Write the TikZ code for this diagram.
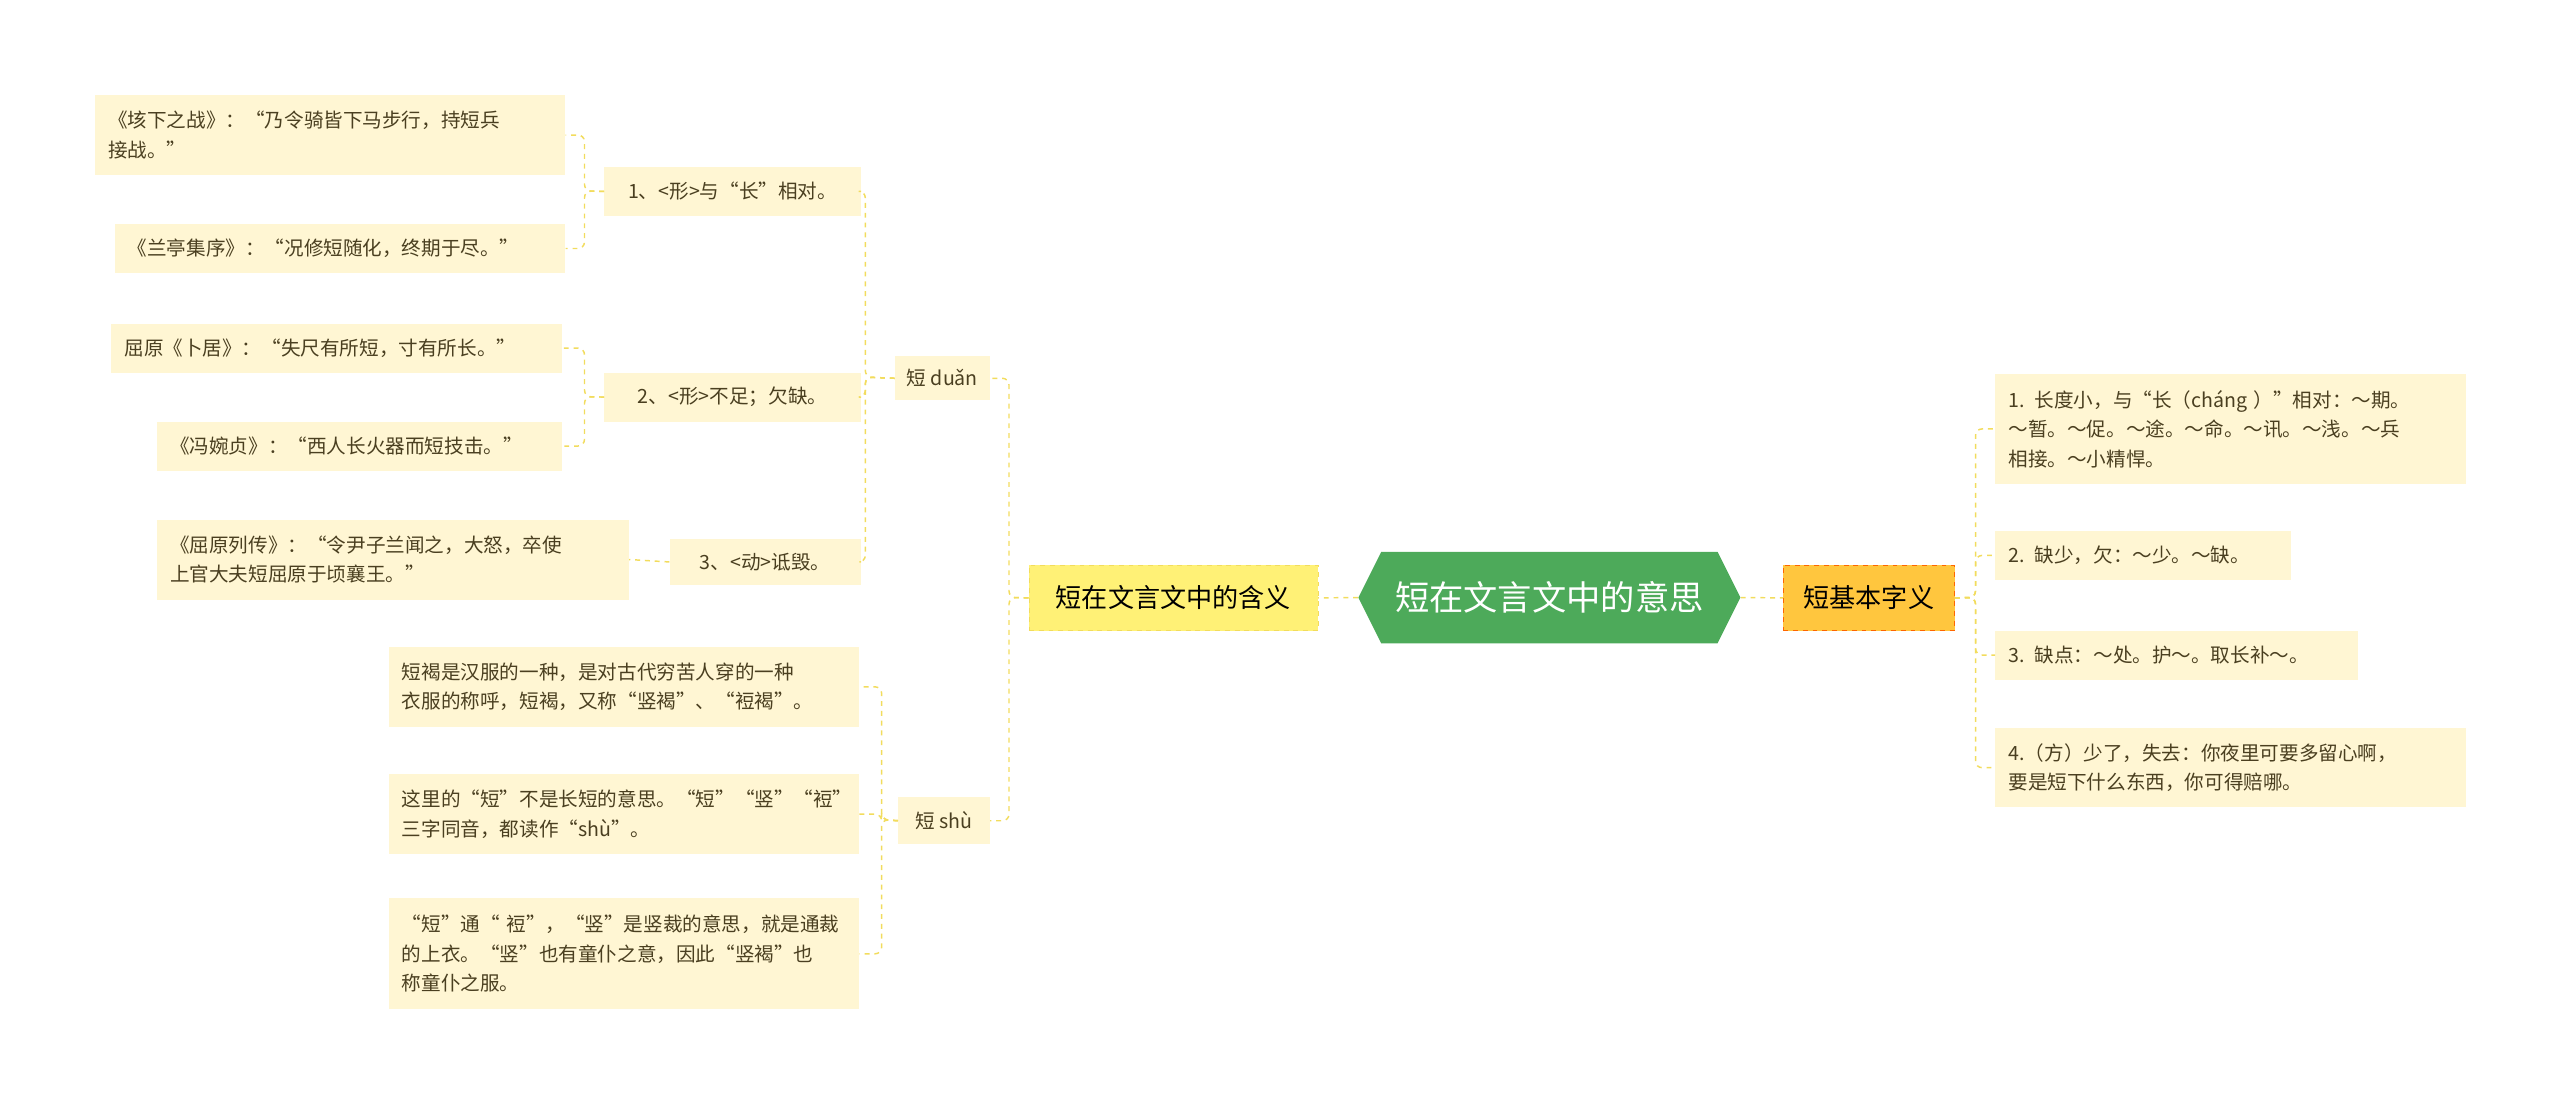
\documentclass[tikz,border=0pt]{standalone}
\usepackage{fontspec}
\setmainfont{Noto Sans CJK SC}
\usetikzlibrary{backgrounds}
\definecolor{leaffill}{HTML}{FFF6D3}
\definecolor{linec}{HTML}{F2DC5D}
\definecolor{midfill}{HTML}{FFF176}
\definecolor{orangefill}{HTML}{FFC63E}
\definecolor{greenfill}{HTML}{4DAA5A}
\definecolor{txt}{HTML}{4A3F20}
\tikzset{
  x=1pt,y=-1pt,
  leaf/.style={fill=leaffill,text=txt,font=\fontsize{12}{18}\selectfont,inner xsep=8pt,inner ysep=3pt,align=left,anchor=north west},
  sub/.style={leaf,align=center},
  mid/.style={draw=linec,dashed,fill=midfill,text=black,font=\fontsize{16}{18}\selectfont,anchor=north west,inner sep=0pt},
  conn/.style={draw=linec,dashed,line width=0.9pt,rounded corners=4pt},
}
\begin{document}
\begin{tikzpicture}
\useasboundingbox (0,0) rectangle (1568,677);
% center
\node[font=\fontsize{21}{24}\selectfont,text=white,minimum width=234pt,minimum height=56pt,inner sep=0pt] (root) at (949,366) {短在文言文中的意思};
\begin{scope}[on background layer]
\fill[greenfill] (832,366) -- (846,338) -- (1052,338) -- (1066,366) -- (1052,394) -- (846,394) -- cycle;
\end{scope}
% right
\node[mid,fill=orangefill,draw=orange!80!red,minimum width=105pt,minimum height=40pt] (basic) at (1092,346) {短基本字义};
\node[leaf,text width=272pt,minimum height=67pt] (r1) at (1222,229) {1. 长度小，与“长（cháng ）”相对：～期。\\～暂。～促。～途。～命。～讯。～浅。～兵\\相接。～小精悍。};
\node[leaf,text width=165pt,minimum height=30pt] (r2) at (1222,325) {2. 缺少，欠：～少。～缺。};
\node[leaf,text width=206pt,minimum height=30pt] (r3) at (1222,386) {3. 缺点：～处。护～。取长补～。};
\node[leaf,text width=272pt,minimum height=48pt] (r4) at (1222,446) {4.（方）少了，失去：你夜里可要多留心啊，\\要是短下什么东西，你可得赔哪。};
\draw[conn] (root.east) -- (basic.west);
\foreach \n in {r1,r2,r3,r4} \draw[conn] (basic.east) -- (1210,366) |- (\n.west);
% left
\node[mid,minimum width=177pt,minimum height=40pt] (han) at (630,346) {短在文言文中的含义};
\draw[conn] (root.west) -- (han.east);
\node[sub,minimum width=58pt,minimum height=27pt,inner sep=0pt] (duan) at (548,218) {短 duǎn};
\node[sub,minimum width=56pt,minimum height=29pt,inner sep=0pt] (shu) at (550,488) {短 shù};
\draw[conn] (han.west) -- (618,366) |- (duan.east);
\draw[conn] (han.west) -- (618,366) |- (shu.east);
\node[sub,minimum width=157pt,minimum height=30pt,inner sep=0pt] (d1) at (370,102) {1、<形>与“长”相对。};
\node[sub,minimum width=157pt,minimum height=30pt,inner sep=0pt] (d2) at (370,228) {2、<形>不足；欠缺。};
\node[sub,minimum width=117pt,minimum height=28pt,inner sep=0pt] (d3) at (410,330) {3、<动>诋毁。};
\foreach \n in {d1,d2,d3} \draw[conn] (duan.west) -- (530,231) |- (\n.east);
\node[leaf,text width=272pt,minimum height=49pt] (a1) at (58,58) {《垓下之战》：“乃令骑皆下马步行，持短兵\\接战。”};
\node[leaf,text width=260pt,minimum height=30pt] (a2) at (70,137) {《兰亭集序》：“况修短随化，终期于尽。”};
\draw[conn] (d1.west) -- (358,117) |- (a1.east);
\draw[conn] (d1.west) -- (358,117) |- (a2.east);
\node[leaf,text width=260pt,minimum height=30pt] (b1) at (68,198) {屈原《卜居》：“失尺有所短，寸有所长。”};
\node[leaf,text width=232pt,minimum height=30pt] (b2) at (96,258) {《冯婉贞》：“西人长火器而短技击。”};
\draw[conn] (d2.west) -- (358,243) |- (b1.east);
\draw[conn] (d2.west) -- (358,243) |- (b2.east);
\node[leaf,text width=273pt,minimum height=49pt] (c1) at (96,318) {《屈原列传》：“令尹子兰闻之，大怒，卒使\\上官大夫短屈原于顷襄王。”};
\draw[conn] (d3.west) -- (c1.east);
\node[leaf,text width=272pt,minimum height=49pt] (s1) at (238,396) {短褐是汉服的一种，是对古代穷苦人穿的一种\\衣服的称呼，短褐，又称“竖褐”、“裋褐”。};
\node[leaf,text width=280pt,inner xsep=4pt,minimum height=49pt] (s2) at (238,474) {\hspace*{4pt}这里的“短”不是长短的意思。“短”“竖”“裋”\\\hspace*{4pt}三字同音，都读作“shù”。};
\node[leaf,text width=272pt,minimum height=68pt] (s3) at (238,550) {“短”通“ 裋”，“竖”是竖裁的意思，就是通裁\\的上衣。“竖”也有童仆之意，因此“竖褐”也\\称童仆之服。};
\foreach \n in {s1,s2,s3} \draw[conn] (shu.west) -- (540,502) |- (\n.east);
\end{tikzpicture}
\end{document}
